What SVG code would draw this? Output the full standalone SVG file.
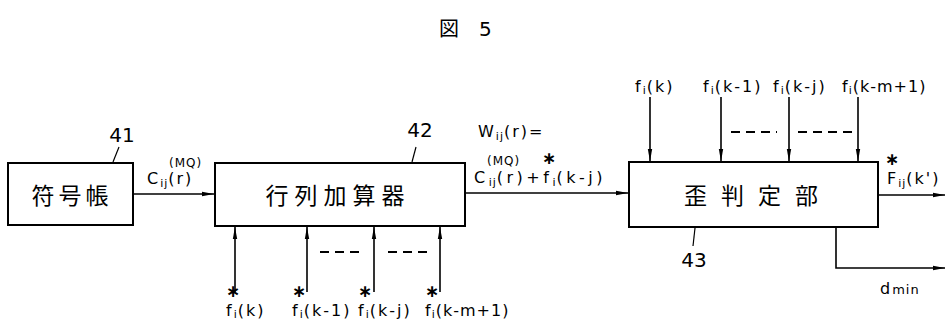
<svg xmlns="http://www.w3.org/2000/svg" width="951" height="324" viewBox="0 0 951 324">
<style>
.box{fill:#fff;stroke:#000;stroke-width:2}
.ln{fill:none;stroke:#000;stroke-width:1.6}
.ld{fill:none;stroke:#000;stroke-width:1.2}
.ds{fill:none;stroke:#000;stroke-width:2;stroke-dasharray:9,6}
.cjk{font-family:"Noto Sans CJK JP","Noto Sans CJK SC",sans-serif;font-size:23px;fill:#000}
.t{font-family:"DejaVu Sans","Liberation Sans",sans-serif;font-size:16px;fill:#000;letter-spacing:2px}
.sm{font-size:11px;letter-spacing:1px}
.st{font-family:"DejaVu Sans","Liberation Sans",sans-serif;font-size:17px;font-weight:bold;fill:#000;text-anchor:middle}
.num{font-family:"DejaVu Sans","Liberation Sans",sans-serif;font-size:20px;fill:#000}
</style>
<defs>
<marker id="ah" markerWidth="12" markerHeight="6" refX="12" refY="3" orient="auto" markerUnits="userSpaceOnUse">
<path d="M0,0.8 L12,3 L0,5.2 Z" fill="#000"/>
</marker>
</defs>
<text x="439" y="36" class="cjk" style="font-size:20px">図</text>
<text x="479" y="36" class="num">5</text>

<g id="n41">
<rect class="box" x="8" y="163" width="125" height="62"/>
<text x="72" y="204" class="cjk" text-anchor="middle" letter-spacing="4">符号帳</text>
<text x="122" y="142" class="num" text-anchor="middle">41</text>
<path class="ld" d="M113,162 L119,147"/>
</g>
<g id="n42">
<rect class="box" x="215" y="163" width="250" height="63"/>
<text x="338" y="204" class="cjk" text-anchor="middle" letter-spacing="6">行列加算器</text>
<text x="420" y="137" class="num" text-anchor="middle">42</text>
<path class="ld" d="M412,162 L416,147"/>
</g>
<g id="n43">
<rect class="box" x="629" y="162" width="249" height="65"/>
<text x="758" y="204" class="cjk" text-anchor="middle" letter-spacing="14">歪判定部</text>
<text x="694" y="267" class="num" text-anchor="middle">43</text>
<path class="ld" d="M695,228 L693,246"/>
</g>

<g id="connectors">
<path class="ln" d="M133,194 L214,194" marker-end="url(#ah)"/>
<path class="ln" d="M465,193 L628,193" marker-end="url(#ah)"/>
<path class="ln" d="M878,195 L945,195" marker-end="url(#ah)"/>
<path class="ln" d="M836,227 L836,268 L945,268" marker-end="url(#ah)"/>
<path class="ln" d="M650,97 L650,161" marker-end="url(#ah)"/>
<path class="ln" d="M721,97 L721,161" marker-end="url(#ah)"/>
<path class="ln" d="M789,97 L789,161" marker-end="url(#ah)"/>
<path class="ln" d="M858,97 L858,161" marker-end="url(#ah)"/>
<path class="ds" d="M731,132 L777,132"/>
<path class="ds" d="M798,132 L852,132"/>
<path class="ln" d="M235,292 L235,227" marker-end="url(#ah)"/>
<path class="ln" d="M307,292 L307,227" marker-end="url(#ah)"/>
<path class="ln" d="M374,292 L374,227" marker-end="url(#ah)"/>
<path class="ln" d="M440,292 L440,227" marker-end="url(#ah)"/>
<path class="ds" d="M320,252 L362,252"/>
<path class="ds" d="M388,252 L430,252"/>
</g>

<g id="labels">
<text x="169" y="167" class="t" style="font-size:12px;letter-spacing:1px">(MQ)</text>
<text x="147" y="184" class="t">C<tspan class="sm" dy="3">ij</tspan><tspan dy="-3">(r)</tspan></text>

<text x="478" y="137" class="t">W<tspan class="sm" dy="3">ij</tspan><tspan dy="-3">(r)=</tspan></text>
<text x="487" y="165" class="t" style="font-size:12px;letter-spacing:1px">(MQ)</text>
<text x="549" y="164" class="st">∗</text>
<text x="474" y="183" class="t" style="letter-spacing:3.5px">C<tspan class="sm" dy="3">ij</tspan><tspan dy="-3">(r)+f</tspan><tspan class="sm" dy="3">i</tspan><tspan dy="-3">(k-j)</tspan></text>

<text x="635" y="92" class="t">f<tspan class="sm" dy="2">i</tspan><tspan dy="-2">(k)</tspan></text>
<text x="703" y="92" class="t">f<tspan class="sm" dy="2">i</tspan><tspan dy="-2">(k-1)</tspan></text>
<text x="773" y="92" class="t">f<tspan class="sm" dy="2">i</tspan><tspan dy="-2">(k-j)</tspan></text>
<text x="842" y="92" class="t" style="letter-spacing:1px">f<tspan class="sm" dy="2">i</tspan><tspan dy="-2">(k-m+1)</tspan></text>

<text x="892" y="165" class="st">∗</text>
<text x="887" y="184" class="t">F<tspan class="sm" dy="3">ij</tspan><tspan dy="-3">(k')</tspan></text>

<text x="880" y="294" class="t">d<tspan style="font-size:13px;letter-spacing:1px">min</tspan></text>

<text x="233" y="297" class="st">∗</text>
<text x="226" y="316" class="t">f<tspan class="sm" dy="2">i</tspan><tspan dy="-2">(k)</tspan></text>
<text x="299" y="297" class="st">∗</text>
<text x="292" y="316" class="t">f<tspan class="sm" dy="2">i</tspan><tspan dy="-2">(k-1)</tspan></text>
<text x="365" y="297" class="st">∗</text>
<text x="358" y="316" class="t">f<tspan class="sm" dy="2">i</tspan><tspan dy="-2">(k-j)</tspan></text>
<text x="432" y="297" class="st">∗</text>
<text x="425" y="316" class="t" style="letter-spacing:1px">f<tspan class="sm" dy="2">i</tspan><tspan dy="-2">(k-m+1)</tspan></text>
</g>
</svg>
